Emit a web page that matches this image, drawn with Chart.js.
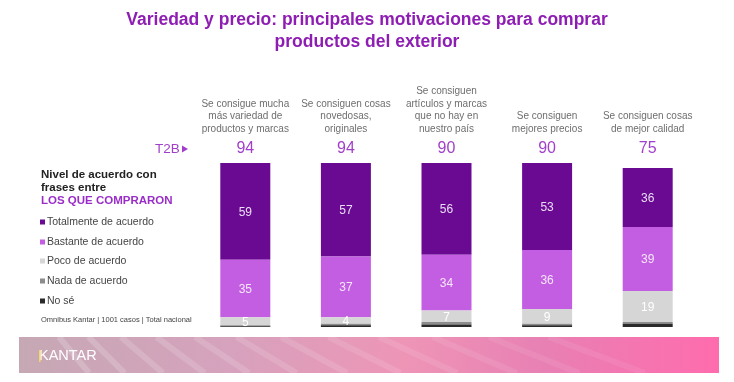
<!DOCTYPE html>
<html>
<head>
<meta charset="utf-8">
<script src="https://cdn.jsdelivr.net/npm/chart.js@4/dist/chart.umd.min.js"></script>
<style>
html,body{margin:0;padding:0;background:#fff;}
#wrap{width:734px;height:382px;position:relative;}
</style>
</head>
<body>
<div id="wrap"><canvas id="c" width="734" height="382"></canvas></div>
<script>
// ---- data ----
const categories = [
  ["Se consigue mucha","más variedad de","productos y marcas"],
  ["Se consiguen cosas","novedosas,","originales"],
  ["Se consiguen","artículos y marcas","que no hay en","nuestro país"],
  ["Se consiguen","mejores precios"],
  ["Se consiguen cosas","de mejor calidad"]
];
const t2b = [94, 94, 90, 90, 75];
const totalmente = [59, 57, 56, 53, 36];
const bastante = [35, 37, 34, 36, 39];
const poco = [5, 4, 7, 9, 19];
const nada = [0.5, 1, 1.5, 1, 1];
const noSe = [0.5, 1, 1.5, 1, 2];
const seriesNames = ["Totalmente de acuerdo","Bastante de acuerdo","Poco de acuerdo","Nada de acuerdo","No sé"];
const titleLines = ["Variedad y precio: principales motivaciones para comprar","productos del exterior"];

const FONT = "'Liberation Sans', Arial, sans-serif";
const colors = ["#6a0a93", "#c35ee2", "#d6d6d6", "#8c8c8c", "#2a2a2a"];
const labelColors = ["#eadcf2", "#f5e6f8", "#ffffff", null, null];

// datasets bottom-up for stacking
const seriesData = [totalmente, bastante, poco, nada, noSe];
const datasets = [];
for (let i = seriesData.length - 1; i >= 0; i--) {
  datasets.push({
    label: seriesNames[i],
    data: seriesData[i],
    backgroundColor: colors[i],
    borderWidth: 0,
    _idx: i
  });
}

const decor = {
  id: 'decor',
  afterDatasetsDraw(chart) {
    const ctx = chart.ctx;
    ctx.save();
    chart.data.datasets.forEach((ds, di) => {
      const lc = labelColors[ds._idx];
      if (!lc) return;
      const meta = chart.getDatasetMeta(di);
      meta.data.forEach((bar, j) => {
        const v = ds.data[j];
        const yc = (bar.y + bar.base) / 2;
        ctx.fillStyle = lc;
        ctx.font = "12px " + FONT;
        ctx.textAlign = 'center';
        ctx.textBaseline = 'middle';
        ctx.fillText(String(v), bar.x, yc + 1);
      });
    });
    ctx.restore();
  },
  afterDraw(chart) {
    const ctx = chart.ctx;
    const xs = chart.scales.x;
    ctx.save();
    // title
    ctx.fillStyle = "#8e1db3";
    ctx.font = "bold 17.5px " + FONT;
    ctx.textAlign = 'center';
    ctx.textBaseline = 'middle';
    ctx.fillText(titleLines[0], 367, 20);
    ctx.fillText(titleLines[1], 367, 42);

    // category headers and T2B
    categories.forEach((lines, i) => {
      const x = xs.getPixelForValue(i);
      ctx.fillStyle = "#6e6e6e";
      ctx.font = "10px " + FONT;
      ctx.textAlign = 'center';
      ctx.textBaseline = 'middle';
      const n = lines.length;
      lines.forEach((ln, k) => {
        ctx.fillText(ln, x, 129 - (n - 1 - k) * 12.5);
      });
      ctx.fillStyle = "#a23fca";
      ctx.font = "16px " + FONT;
      ctx.fillText(String(t2b[i]), x, 149);
    });
    // T2B label
    ctx.fillStyle = "#a23fca";
    ctx.font = "13.5px " + FONT;
    ctx.textAlign = 'left';
    ctx.textBaseline = 'middle';
    ctx.fillText("T2B", 155, 149);
    ctx.beginPath();
    ctx.moveTo(182, 145.5); ctx.lineTo(188, 149); ctx.lineTo(182, 152.5); ctx.closePath();
    ctx.fill();

    // left block
    ctx.fillStyle = "#222";
    ctx.font = "bold 11.5px " + FONT;
    ctx.fillText("Nivel de acuerdo con", 41, 175);
    ctx.fillText("frases entre", 41, 188);
    ctx.fillStyle = "#9a2dc8";
    ctx.fillText("LOS QUE COMPRARON", 41, 201);
    const legY = [222, 242, 261, 281, 301];
    seriesNames.forEach((nm, i) => {
      ctx.fillStyle = colors[i];
      ctx.fillRect(40, legY[i] - 2.5, 5, 5);
      ctx.fillStyle = "#444";
      ctx.font = "10.5px " + FONT;
      ctx.fillText(nm, 47, legY[i]);
    });
    ctx.fillStyle = "#444";
    ctx.font = "7.5px " + FONT;
    ctx.fillText("Omnibus Kantar | 1001 casos | Total nacional", 41, 320);

    // banner
    const bx = 19, by = 337, bw = 700, bh = 36;
    const g = ctx.createLinearGradient(bx, 0, bx + bw, 0);
    g.addColorStop(0, "#c6a8b4");
    g.addColorStop(0.3, "#d6a2bd");
    g.addColorStop(0.55, "#ee95b6");
    g.addColorStop(0.75, "#e880b4");
    g.addColorStop(1, "#ff6cae");
    ctx.fillStyle = g;
    ctx.fillRect(bx, by, bw, bh);
    ctx.save();
    ctx.beginPath(); ctx.rect(bx, by, bw, bh); ctx.clip();
    for (let k = 0; k < 12; k++) {
      const x0 = bx + 40 + k * 28 + k * k * 1.5;
      ctx.strokeStyle = "rgba(255,255,255," + (0.18 - k * 0.01) + ")";
      ctx.lineWidth = 6;
      ctx.beginPath();
      ctx.moveTo(x0, by);
      ctx.quadraticCurveTo(x0 + 15 + k * 3, by + bh * 0.5, x0 + 30 + k * 6, by + bh);
      ctx.stroke();
    }
    ctx.restore();
    ctx.fillStyle = "#ffffff";
    ctx.font = "14.5px " + FONT;
    ctx.textBaseline = 'middle';
    ctx.fillText("KANTAR", 39, 356);
    ctx.fillStyle = "#f2d86a";
    ctx.fillRect(39, 350, 1.6, 12);
    ctx.restore();
  }
};

new Chart(document.getElementById('c'), {
  type: 'bar',
  data: { labels: categories.map(c => c.join(' ')), datasets: datasets },
  options: {
    responsive: false,
    animation: false,
    events: [],
    layout: { padding: { left: 195, right: 36, top: 163, bottom: 55 } },
    plugins: { legend: { display: false }, title: { display: false }, tooltip: { enabled: false } },
    scales: {
      x: { stacked: true, display: false, grid: { display: false } },
      y: { stacked: true, display: false, min: 0, max: 100 }
    },
    datasets: { bar: { barPercentage: 1, categoryPercentage: 0.497 } }
  },
  plugins: [decor]
});
</script>
</body>
</html>
